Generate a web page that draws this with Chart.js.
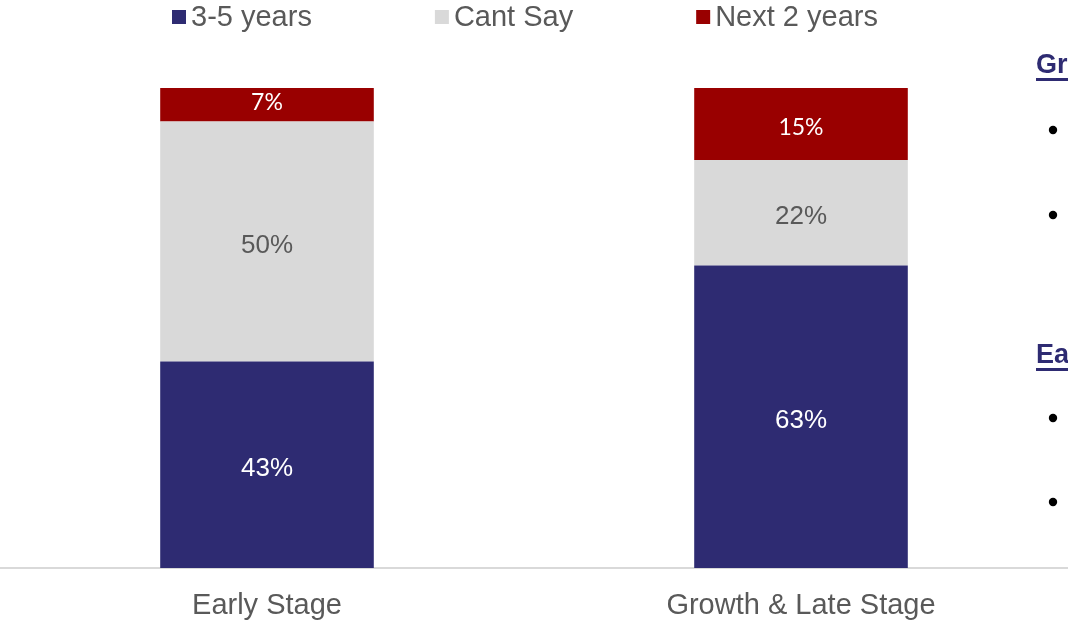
<!DOCTYPE html>
<html>
<head>
<meta charset="utf-8">
<script src="https://cdn.jsdelivr.net/npm/chart.js@4/dist/chart.umd.min.js"></script>
<style>
  html, body { margin: 0; padding: 0; background: #ffffff; }
  #wrap { width: 1068px; height: 623px; position: relative; }
</style>
</head>
<body>
<div id="wrap"><canvas id="c" width="1068" height="623"></canvas></div>
<script>
// Stage groups and the share of respondents per time horizon (%)
const categories = ['Early Stage', 'Growth & Late Stage'];
const seriesNames = ['3-5 years', 'Cant Say', 'Next 2 years'];
const threeToFiveYears = [43, 63];
const cantSay = [50, 22];
const nextTwoYears = [7, 15];
const sideHeadings = ['Growth & Late Stage', 'Early Stage'];

const COLORS = ['#2E2B72', '#D9D9D9', '#990000'];
const LABEL_COLORS = ['#FFFFFF', '#595959', '#FFFFFF'];
const LABEL_FONTS = ['26px "Liberation Sans", Arial, sans-serif',
                     '26px "Liberation Sans", Arial, sans-serif',
                     '23px Lato, "Open Sans", sans-serif'];
const TEXT_GREY = '#595959';

// Percent labels written inside each stacked segment
const segmentLabels = {
  id: 'segmentLabels',
  afterDatasetsDraw(chart) {
    const ctx = chart.ctx;
    chart.data.datasets.forEach((ds, di) => {
      const meta = chart.getDatasetMeta(di);
      meta.data.forEach((bar, i) => {
        const v = ds.data[i];
        const p = bar.getProps(['x', 'y', 'base'], true);
        const h = Math.abs(p.base - p.y);
        let shift = 4;
        if (di === 2) shift = h < 40 ? -2 : 4;
        ctx.save();
        ctx.font = LABEL_FONTS[di];
        ctx.fillStyle = LABEL_COLORS[di];
        ctx.textAlign = 'center';
        ctx.textBaseline = 'middle';
        ctx.fillText(v + '%', p.x, (p.y + p.base) / 2 + shift);
        ctx.restore();
      });
    });
  }
};

// Legend row across the top: small square swatch followed by the series name
const topLegend = {
  id: 'topLegend',
  afterDraw(chart) {
    const ctx = chart.ctx;
    ctx.save();
    ctx.font = '29px "Liberation Sans", Arial, sans-serif';
    ctx.textBaseline = 'middle';
    let x = 172;
    const gap = 123;
    chart.data.datasets.forEach((ds) => {
      ctx.fillStyle = ds.backgroundColor;
      ctx.fillRect(x, 10, 14, 14);
      ctx.fillStyle = TEXT_GREY;
      ctx.textAlign = 'left';
      ctx.fillText(ds.label, x + 19, 18);
      x += 19 + ctx.measureText(ds.label).width + gap;
    });
    ctx.restore();
  }
};

// Commentary column on the right edge: underlined headings with bullet points
const sideNotes = {
  id: 'sideNotes',
  afterDraw(chart) {
    const ctx = chart.ctx;
    ctx.save();
    const blocks = [
      { y: 65, bullets: [130, 215] },
      { y: 355, bullets: [418, 502] }
    ];
    blocks.forEach((b, k) => {
      ctx.font = 'bold 27px "Liberation Sans", Arial, sans-serif';
      ctx.fillStyle = '#2E2B72';
      ctx.textBaseline = 'middle';
      ctx.textAlign = 'left';
      const text = sideHeadings[k] + ':';
      ctx.fillText(text, 1036, b.y + 1);
      const w = ctx.measureText(text).width;
      ctx.fillRect(1036, b.y + 13, w, 3);
      ctx.fillStyle = '#000000';
      b.bullets.forEach(by => {
        ctx.beginPath();
        ctx.arc(1053, by, 4.2, 0, Math.PI * 2);
        ctx.fill();
      });
    });
    ctx.restore();
  }
};

const datasetValues = [threeToFiveYears, cantSay, nextTwoYears];

new Chart(document.getElementById('c'), {
  type: 'bar',
  data: {
    labels: categories,
    datasets: seriesNames.map((name, i) => ({
      label: name,
      data: datasetValues[i],
      backgroundColor: COLORS[i],
      borderWidth: 0,
      categoryPercentage: 0.8,
      barPercentage: 0.5
    }))
  },
  options: {
    responsive: false,
    animation: false,
    devicePixelRatio: 1,
    layout: { padding: { top: 88, left: 0, right: 0, bottom: 0 } },
    plugins: {
      legend: { display: false },
      tooltip: { enabled: false }
    },
    scales: {
      x: {
        stacked: true,
        grid: { display: false, drawTicks: false },
        border: { display: true, color: '#D9D9D9', width: 2 },
        ticks: {
          color: TEXT_GREY,
          font: { family: '"Liberation Sans", Arial, sans-serif', size: 29 },
          padding: 21
        },
        afterFit(scale) { scale.height = 55; }
      },
      y: {
        stacked: true,
        display: false,
        min: 0,
        max: 100
      }
    }
  },
  plugins: [segmentLabels, topLegend, sideNotes]
});
</script>
</body>
</html>
